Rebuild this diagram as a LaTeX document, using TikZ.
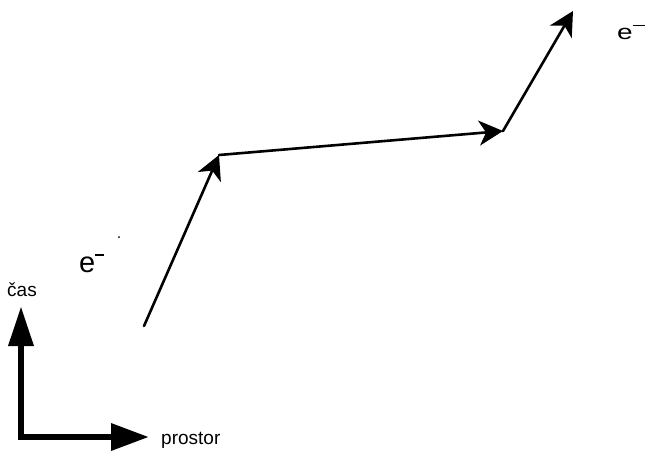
\documentclass[tikz,border=0pt]{standalone}
\usepackage{fontspec}
\setmainfont{Liberation Sans}
\usetikzlibrary{arrows.meta}

\tikzset{
  worldline/.style={line width=2.6pt, line cap=round, -{Stealth[length=24pt, width=25pt, inset=7pt]}},
  axisline/.style={line width=6.5pt, line join=miter,
    {Triangle[length=40pt, width=24pt]}-{Triangle[length=38pt, width=26pt]}},
  axislabel/.style={font=\fontsize{19}{19}\selectfont, inner sep=0pt, anchor=base west},
  particle/.style={inner sep=0pt, anchor=base west}
}

\begin{document}
\begin{tikzpicture}[x=1pt, y=-1pt]
  \useasboundingbox (0,0) rectangle (646,451);

  % axes: time up, space right
  \coordinate (ytip) at (21,306);
  \coordinate (origin) at (21,437);
  \coordinate (xtip) at (149,437);
  \draw[axisline] (ytip) -- (origin) -- (xtip);
  \node[axislabel] (cas) at (7,296) {čas};
  \node[axislabel] (prostor) at (161,444) {prostor};

  % electron world line
  \coordinate (p0) at (144,326);
  \coordinate (p1) at (219,155);
  \coordinate (p2) at (503,131);
  \coordinate (p3) at (573,11);
  \draw[worldline] (p0) -- (p1);
  \draw[worldline] (p1) -- (p2);
  \draw[worldline] (p2) -- (p3);

  % particle labels
  \node[particle, font=\fontsize{29}{29}\selectfont] (ein) at (79,272) {e\raisebox{0.55em}{\rule{0.29em}{0.06em}}};
  \node[particle, font=\fontsize{28}{28}\selectfont] (eout) at (617,39) {\scalebox{1}[0.75]{e\raisebox{0.6em}{\rule{0.45em}{0.07em}}}};
  \fill (119,237) circle (1pt);
\end{tikzpicture}
\end{document}
